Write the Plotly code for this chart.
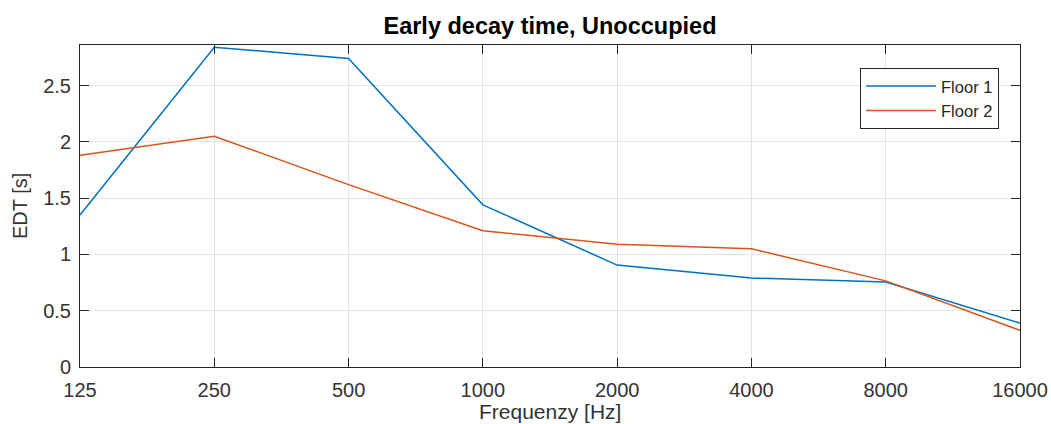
import plotly.graph_objects as go

freqs = [125, 250, 500, 1000, 2000, 4000, 8000, 16000]
tick_labels = ["125", "250", "500", "1000", "2000", "4000", "8000", "16000"]
floor1 = [1.35, 2.84, 2.74, 1.44, 0.905, 0.79, 0.755, 0.39]
floor2 = [1.88, 2.05, 1.62, 1.21, 1.09, 1.05, 0.765, 0.325]
y_ticks = [0, 0.5, 1, 1.5, 2, 2.5]
y_labels = ["0", "0.5", "1", "1.5", "2", "2.5"]

fig = go.Figure()
fig.add_trace(go.Scatter(x=freqs, y=floor1, mode="lines", name="Floor 1",
                         line=dict(color="#0072BD", width=1.5)))
fig.add_trace(go.Scatter(x=freqs, y=floor2, mode="lines", name="Floor 2",
                         line=dict(color="#D95319", width=1.5)))

font = "Liberation Sans, Arial, sans-serif"
txt = "#333333"
fig.update_layout(
    width=1051, height=424,
    margin=dict(l=80, r=31, t=45, b=57, autoexpand=False),
    paper_bgcolor="white", plot_bgcolor="white",
    title=dict(text="<b>Early decay time, Unoccupied</b>", x=0.5, xref="paper",
               xanchor="center", y=1 - 26 / 424, yref="container", yanchor="middle",
               font=dict(family=font, size=23.5, color="#000000")),
    font=dict(family=font, size=20, color=txt),
    showlegend=True,
    legend=dict(x=0.9777, xanchor="right", y=0.929, yanchor="top",
                bgcolor="white", bordercolor="#262626", borderwidth=1,
                font=dict(family=font, size=16.5, color="#262626"),
                itemwidth=70, tracegroupgap=0),
    annotations=[
        dict(text="Frequenzy [Hz]", x=0.5, y=0, xref="paper", yref="paper",
             xanchor="center", yanchor="middle", yshift=-44, showarrow=False,
             font=dict(family=font, size=21, color=txt)),
        dict(text="EDT [s]", x=0, y=0.5, xref="paper", yref="paper",
             xanchor="center", yanchor="middle", xshift=-60, textangle=-90,
             showarrow=False, font=dict(family=font, size=20, color=txt)),
    ],
)
fig.update_xaxes(
    type="log", range=[2.09691, 4.20412], automargin=False,
    tickvals=freqs, ticktext=tick_labels,
    showgrid=True, gridcolor="#e3e3e3", gridwidth=1,
    showline=True, linecolor="#262626", linewidth=1, mirror="ticks",
    ticks="inside", ticklen=9, tickcolor="#262626", ticklabelstandoff=5,
    tickfont=dict(family=font, size=20, color=txt),
    zeroline=False,
)
fig.update_yaxes(
    range=[0, 2.86], automargin=False,
    tickvals=y_ticks, ticktext=y_labels,
    showgrid=True, gridcolor="#e3e3e3", gridwidth=1,
    showline=True, linecolor="#262626", linewidth=1, mirror="ticks",
    ticks="inside", ticklen=9, tickcolor="#262626", ticklabelstandoff=4,
    tickfont=dict(family=font, size=20, color=txt),
    zeroline=False,
)
fig.write_html(
    "out.html",
    config={"displayModeBar": False},
    post_script="document.body.style.margin='0px';document.body.style.overflow='hidden';",
)
